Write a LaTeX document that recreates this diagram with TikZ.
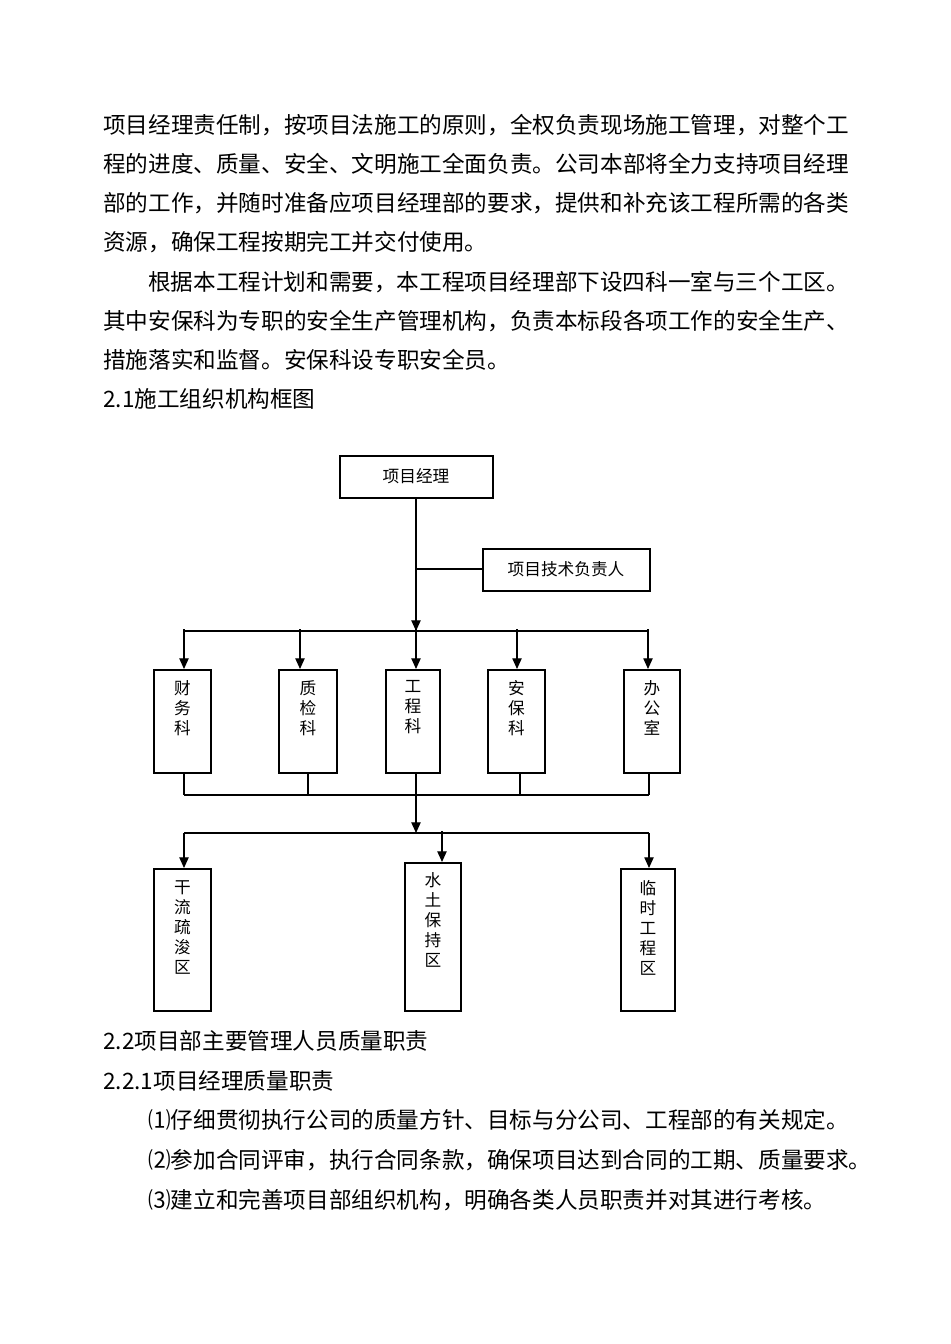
\documentclass[tikz,border=0pt]{standalone}
\usepackage{fontspec}
\newfontfamily\cjk{Noto Sans CJK SC}
\usetikzlibrary{arrows.meta}
\begin{document}
\begin{tikzpicture}[x=0.75pt,y=-0.75pt,
  para/.style={anchor=west,inner sep=0,font=\cjk\fontsize{16.95}{20}\selectfont},
  box/.style={draw,line width=1.3pt,inner sep=0},
  lbl/.style={font=\cjk\fontsize{12.5}{15}\selectfont,align=center,anchor=north,inner sep=0},
  conn/.style={line width=0.9pt},
  arr/.style={conn,-{Triangle[length=8pt,width=7pt]}}]
\fill[white] (0,0) rectangle (950,1344);
\useasboundingbox (0,0) rectangle (950,1344);
\node[para] (l1) at (103,125) {项目经理责任制，按项目法施工的原则，全权负责现场施工管理，对整个工};
\node[para] (l2) at (103,164) {程的进度、质量、安全、文明施工全面负责。公司本部将全力支持项目经理};
\node[para] (l3) at (103,203) {部的工作，并随时准备应项目经理部的要求，提供和补充该工程所需的各类};
\node[para] (l4) at (103,242) {资源，确保工程按期完工并交付使用。};
\node[para] (l5) at (148,282) {根据本工程计划和需要，本工程项目经理部下设四科一室与三个工区。};
\node[para] (l6) at (103,321) {其中安保科为专职的安全生产管理机构，负责本标段各项工作的安全生产、};
\node[para] (l7) at (103,360) {措施落实和监督。安保科设专职安全员。};
\node[para] (l8) at (103,399) {2.1施工组织机构框图};
\node[para] (l9) at (103,1041) {2.2项目部主要管理人员质量职责};
\node[para] (l10) at (103,1081) {2.2.1项目经理质量职责};
\node[para] (l11) at (148,1120) {⑴仔细贯彻执行公司的质量方针、目标与分公司、工程部的有关规定。};
\node[para] (l12) at (148,1160) {⑵参加合同评审，执行合同条款，确保项目达到合同的工期、质量要求。};
\node[para] (l13) at (148,1200) {⑶建立和完善项目部组织机构，明确各类人员职责并对其进行考核。};
% boxes
\draw[box] (340,456) rectangle (493,498);
\node[font=\cjk\fontsize{12.5}{15}\selectfont] (pm) at (416,476) {项目经理};
\draw[box] (483,549) rectangle (650,591);
\node[font=\cjk\fontsize{12.5}{15}\selectfont] (tech) at (566,569) {项目技术负责人};
\coordinate (pmb) at (416,498);
\coordinate (techw) at (483,569);
\coordinate (br) at (416,569);
\coordinate (hub1) at (416,631);
\draw[conn] (pmb) -- (br) -- (techw);
\draw[arr] (br) -- (hub1);
\draw[conn] (184,631) -- (648,631);
\foreach \xl/\xr/\xa/\xb/\t/\n in {154/211/184/184/财\\务\\科/a,279/337/300/308/质\\检\\科/b,386/440/416/416/工\\程\\科/c,488/545/517/520/安\\保\\科/d,624/680/648/649/办\\公\\室/e}{
  \draw[box] (\xl,670) rectangle (\xr,773);
  \node[lbl] (t\n) at ({(\xl+\xr)/2},680) {\t};
  \draw[arr] (\xa,629) -- (\xa,669);
  \draw[conn] (\xb,773) -- (\xb,795);
}
\draw[conn] (184,795) -- (649,795);
\draw[arr] (416,795) -- (416,833);
\draw[conn] (184,833) -- (649,833);
\draw[arr] (184,833) -- (184,868);
\draw[arr] (649,833) -- (649,868);
\draw[arr] (442,831) -- (442,862);
\draw[box] (154,869) rectangle (211,1011);
\node[lbl] (z1) at (182.5,880) {干\\流\\疏\\浚\\区};
\draw[box] (405,863) rectangle (461,1011);
\node[lbl] (z2) at (433,872) {水\\土\\保\\持\\区};
\draw[box] (621,869) rectangle (675,1011);
\node[lbl] (z3) at (648,880) {临\\时\\工\\程\\区};
\end{tikzpicture}
\end{document}
